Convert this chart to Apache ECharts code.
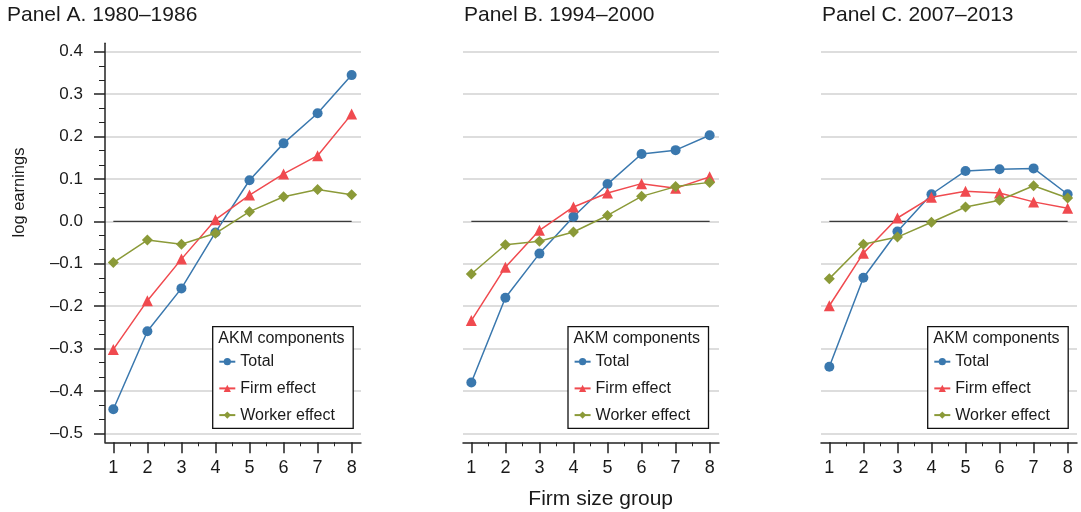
<!DOCTYPE html>
<html>
<head>
<meta charset="utf-8">
<script src="https://cdn.jsdelivr.net/npm/echarts@6/dist/echarts.min.js"></script>
<style>
html,body{margin:0;padding:0;background:#fff;}
#chart{width:1081px;height:512px;}
</style>
</head>
<body>
<div id="chart"></div>
<script>
// ---------------- data ----------------
const categories = [1, 2, 3, 4, 5, 6, 7, 8];
const yTickMin = -0.5, yTickMax = 0.4, yTickStep = 0.1;
const xTickValues = [1, 2, 3, 4, 5, 6, 7, 8];
const xMinorTickValues = [1.5, 2.5, 3.5, 4.5, 5.5, 6.5, 7.5];
const panelTitles = ['Panel A. 1980–1986', 'Panel B. 1994–2000', 'Panel C. 2007–2013'];
const seriesNames = ['Total', 'Firm effect', 'Worker effect'];
const legendTitle = 'AKM components';
const yAxisName = 'log earnings';
const xAxisName = 'Firm size group';

const totalA  = [-0.443, -0.259, -0.158, -0.026, 0.097, 0.184, 0.255, 0.345];
const firmA   = [-0.302, -0.187, -0.089, 0.004, 0.062, 0.112, 0.155, 0.253];
const workerA = [-0.097, -0.044, -0.054, -0.028, 0.023, 0.058, 0.075, 0.063];

const totalB  = [-0.380, -0.180, -0.076, 0.011, 0.088, 0.159, 0.168, 0.203];
const firmB   = [-0.234, -0.108, -0.021, 0.034, 0.067, 0.089, 0.078, 0.105];
const workerB = [-0.124, -0.055, -0.047, -0.025, 0.014, 0.059, 0.082, 0.092];

const totalC  = [-0.343, -0.133, -0.024, 0.064, 0.119, 0.123, 0.125, 0.064];
const firmC   = [-0.199, -0.075, 0.008, 0.057, 0.071, 0.067, 0.046, 0.031];
const workerC = [-0.135, -0.054, -0.037, -0.002, 0.034, 0.050, 0.084, 0.055];

const zeroLineX = [1, 8];
const zeroLineY = [0, 0];

const panels = [
  [totalA, firmA, workerA],
  [totalB, firmB, workerB],
  [totalC, firmC, workerC]
];

// ---------------- style / layout ----------------
const FONT = '"Liberation Sans", Arial, Helvetica, sans-serif';
const TXT = '#1a1a1a';
const AX = '#222';
const colors = ['#3a78ae', '#f04a4f', '#8b9a38'];
const symbols = ['circle', 'triangle', 'diamond'];
const symbolSizes = [10, 11, 11];
const gridLefts = [105, 463, 821];
const gridTop = 43.3, gridHeight = 399, gridWidth = 256;
const xMin = 0.755, xMax = 8.275, yMin = -0.521, yMax = 0.42;
const pxPerUnit = gridHeight / (yMax - yMin);
const innerTop = gridTop + (yMax - yTickMax) * pxPerUnit;
const innerHeight = (yTickMax - yTickMin) * pxPerUnit;
const legendBoxLefts = [212.7, 568, 927.7];
const legendBoxTop = 326.7, legendBoxW = 140.5, legendBoxH = 101.6;

function fmtY(v) {
  const r = Math.round(v * 10) / 10;
  return (r < 0 ? '–' : '') + Math.abs(r).toFixed(1);
}

const grid = [], xAxis = [], yAxis = [], series = [], legend = [], title = [], graphic = [];

panels.forEach((panel, p) => {
  // outer grid: axis lines, x ticks and the data
  const gOuter = grid.length;
  grid.push({ left: gridLefts[p], top: gridTop, width: gridWidth, height: gridHeight,
    containLabel: false, outerBoundsMode: 'none' });
  // inner grid: exactly the -0.5..0.4 tick span (y ticks, labels, grid lines)
  const gInner = grid.length;
  grid.push({ left: gridLefts[p], top: innerTop, width: gridWidth, height: innerHeight,
    containLabel: false, outerBoundsMode: 'none' });

  const xIdx = xAxis.length;
  xAxis.push({
    type: 'value', gridIndex: gOuter, min: xMin, max: xMax, position: 'bottom',
    axisLine: { show: true, onZero: false, lineStyle: { color: AX, width: 1.5 } },
    axisTick: { show: true, length: 11, customValues: xTickValues, lineStyle: { color: AX, width: 1.5 } },
    axisLabel: { show: true, customValues: xTickValues, margin: 17, fontSize: 18, fontFamily: FONT, color: TXT },
    splitLine: { show: false }, minorTick: { show: false }
  });
  xAxis.push({
    type: 'value', gridIndex: gOuter, min: xMin, max: xMax, position: 'bottom',
    axisLine: { show: false, onZero: false },
    axisTick: { show: true, length: 4, customValues: xMinorTickValues, lineStyle: { color: AX, width: 1 } },
    axisLabel: { show: false, customValues: xMinorTickValues },
    splitLine: { show: false }
  });
  xAxis.push({
    type: 'value', gridIndex: gInner, min: xMin, max: xMax, show: false
  });

  const yIdx = yAxis.length;
  yAxis.push({
    type: 'value', gridIndex: gOuter, min: yMin, max: yMax, position: 'left',
    show: p === 0,
    axisLine: { show: p === 0, onZero: false, lineStyle: { color: AX, width: 1.5 } },
    axisTick: { show: false }, axisLabel: { show: false },
    splitLine: { show: false }, minorTick: { show: false }
  });
  yAxis.push({
    type: 'value', gridIndex: gInner, min: yTickMin, max: yTickMax, interval: yTickStep, position: 'left',
    axisLine: { show: false, onZero: false },
    axisTick: { show: p === 0, length: 11, lineStyle: { color: AX, width: 1.5 } },
    axisLabel: { show: p === 0, margin: 22, fontSize: 17, fontFamily: FONT, color: TXT, formatter: fmtY },
    minorTick: { show: p === 0, splitNumber: 3, length: 6, lineStyle: { color: AX, width: 1 } },
    splitLine: { show: true, lineStyle: { color: '#d2d2d2', width: 1.6 } },
    minorSplitLine: { show: false }
  });

  series.push({
    type: 'line', name: 'zero', xAxisIndex: xIdx, yAxisIndex: yIdx,
    data: zeroLineX.map((x, i) => [x, zeroLineY[i]]),
    symbol: 'none', silent: true, z: 1,
    lineStyle: { color: '#3a3a3a', width: 1.2 }
  });

  panel.forEach((vals, s) => {
    series.push({
      type: 'line', name: seriesNames[s], xAxisIndex: xIdx, yAxisIndex: yIdx,
      data: categories.map((c, i) => [c, vals[i]]),
      symbol: symbols[s], symbolSize: symbolSizes[s], showSymbol: true,
      itemStyle: { color: colors[s] },
      lineStyle: { color: colors[s], width: 1.5 },
      z: 2 + s
    });
  });

  title.push({
    text: panelTitles[p], left: p === 0 ? 7 : gridLefts[p] + 1, top: 5, padding: 0,
    textStyle: { fontSize: 21, fontWeight: 'normal', fontFamily: FONT, color: TXT }
  });

  legend.push({
    data: seriesNames, orient: 'vertical', selectedMode: false,
    left: legendBoxLefts[p] + 5.6, top: 353.7, padding: 0,
    itemWidth: 16, itemHeight: 9, itemGap: 10.7,
    textStyle: { fontSize: 16, fontFamily: FONT, color: TXT, lineHeight: 16 },
    z: 6
  });

  graphic.push({
    type: 'rect', z: 5, silent: true,
    shape: { x: legendBoxLefts[p], y: legendBoxTop, width: legendBoxW, height: legendBoxH },
    style: { fill: '#fff', stroke: '#111', lineWidth: 1.3 }
  });
  graphic.push({
    type: 'text', z: 7, silent: true, x: legendBoxLefts[p] + 5.6, y: 339,
    style: { text: legendTitle, fontSize: 16, fontFamily: FONT, fill: TXT, textAlign: 'left', textVerticalAlign: 'middle' }
  });
});

graphic.push({
  type: 'text', z: 7, silent: true, x: 19, y: 192.5, rotation: Math.PI / 2,
  style: { text: yAxisName, fontSize: 16.5, fontFamily: FONT, fill: TXT, textAlign: 'center', textVerticalAlign: 'middle' }
});
graphic.push({
  type: 'text', z: 7, silent: true, x: 600.7, y: 499,
  style: { text: xAxisName, fontSize: 21, fontFamily: FONT, fill: TXT, textAlign: 'center', textVerticalAlign: 'middle' }
});

const chart = echarts.init(document.getElementById('chart'), null, { renderer: 'canvas' });
chart.setOption({
  animation: false,
  backgroundColor: '#fff',
  title, grid, xAxis, yAxis, series, legend, graphic
});
</script>
</body>
</html>
